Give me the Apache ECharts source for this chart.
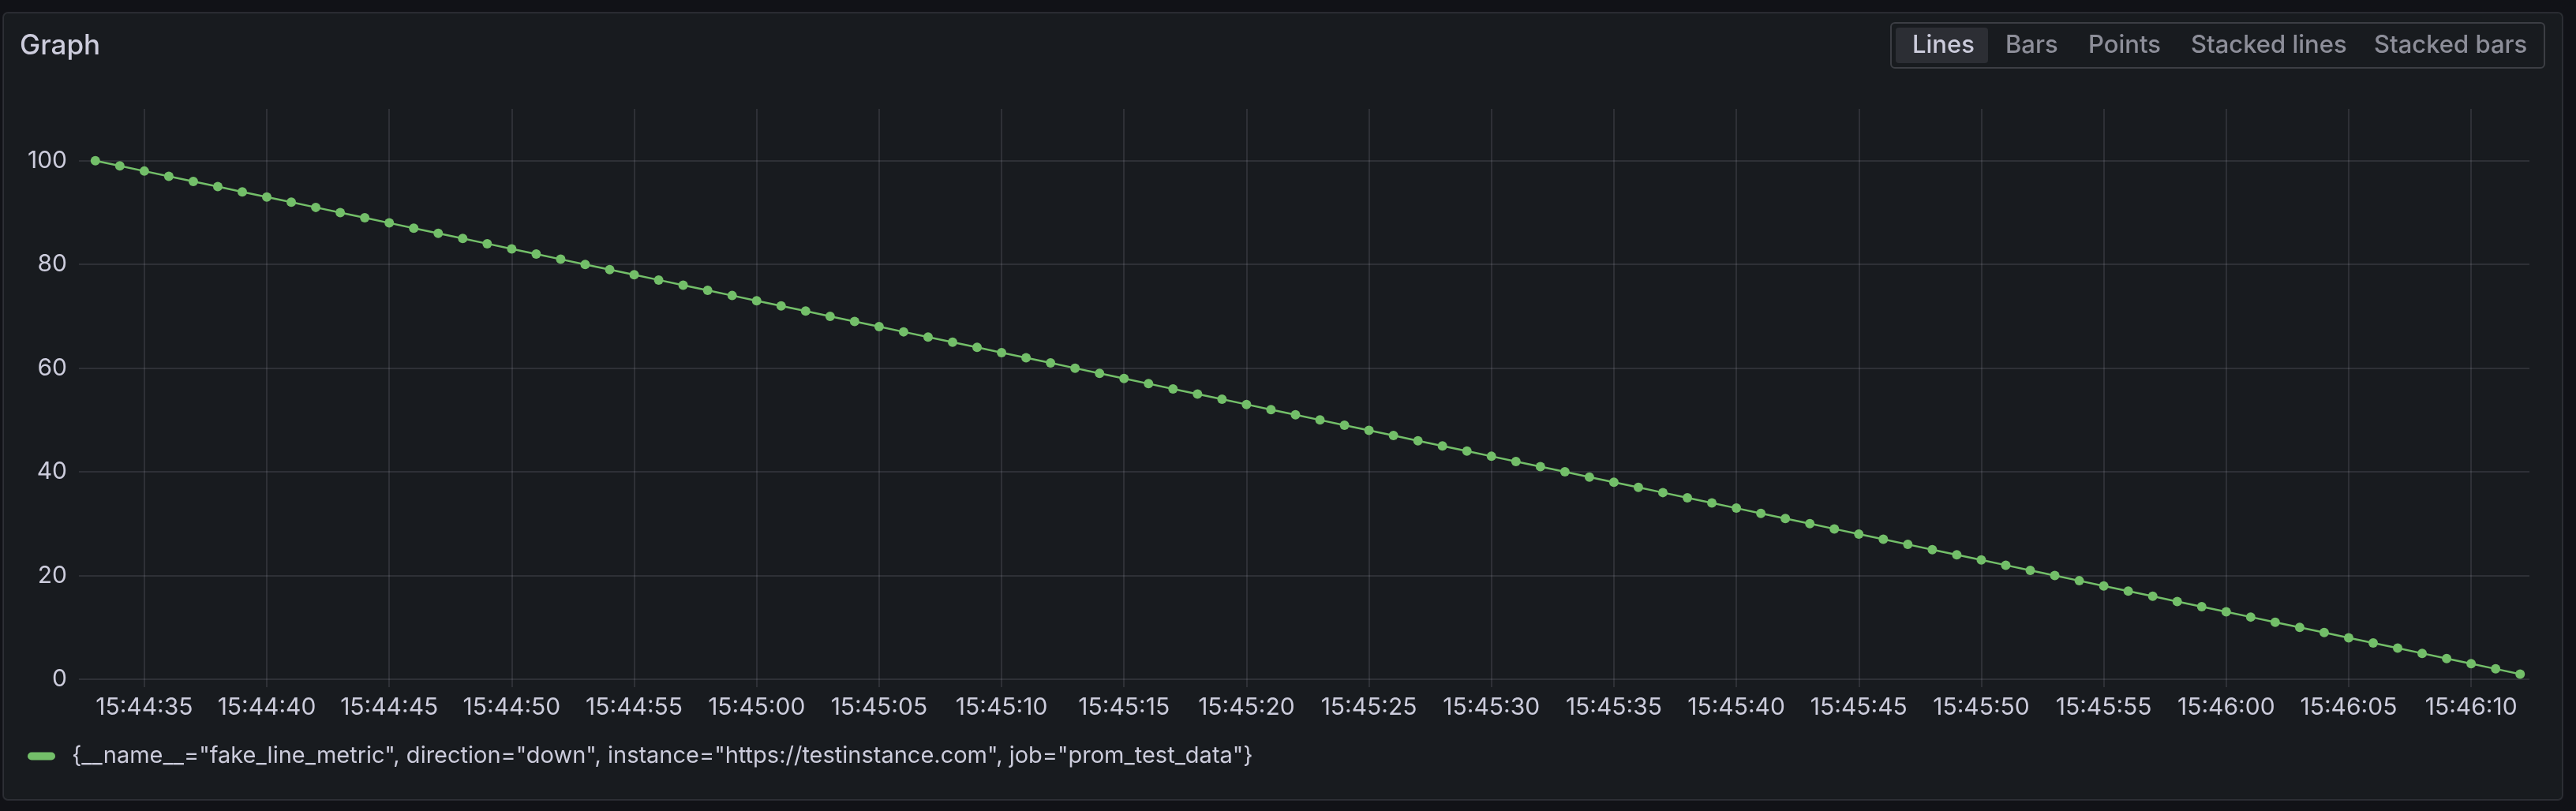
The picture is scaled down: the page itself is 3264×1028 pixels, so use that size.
<!DOCTYPE html>
<html>
<head>
<meta charset="utf-8">
<script src="https://cdn.jsdelivr.net/npm/echarts@6/dist/echarts.min.js"></script>
<style>
  html, body { margin: 0; padding: 0; background: #111217; }
  #chart { width: 3264px; height: 1028px; }
</style>
</head>
<body>
<div id="chart"></div>
<script>
// ---- data ----
const seriesName = '{__name__="fake_line_metric", direction="down", instance="https://testinstance.com", job="prom_test_data"}';
const timeLabels = [
  '15:44:33','15:44:34','15:44:35','15:44:36','15:44:37','15:44:38','15:44:39','15:44:40','15:44:41','15:44:42',
  '15:44:43','15:44:44','15:44:45','15:44:46','15:44:47','15:44:48','15:44:49','15:44:50','15:44:51','15:44:52',
  '15:44:53','15:44:54','15:44:55','15:44:56','15:44:57','15:44:58','15:44:59','15:45:00','15:45:01','15:45:02',
  '15:45:03','15:45:04','15:45:05','15:45:06','15:45:07','15:45:08','15:45:09','15:45:10','15:45:11','15:45:12',
  '15:45:13','15:45:14','15:45:15','15:45:16','15:45:17','15:45:18','15:45:19','15:45:20','15:45:21','15:45:22',
  '15:45:23','15:45:24','15:45:25','15:45:26','15:45:27','15:45:28','15:45:29','15:45:30','15:45:31','15:45:32',
  '15:45:33','15:45:34','15:45:35','15:45:36','15:45:37','15:45:38','15:45:39','15:45:40','15:45:41','15:45:42',
  '15:45:43','15:45:44','15:45:45','15:45:46','15:45:47','15:45:48','15:45:49','15:45:50','15:45:51','15:45:52',
  '15:45:53','15:45:54','15:45:55','15:45:56','15:45:57','15:45:58','15:45:59','15:46:00','15:46:01','15:46:02',
  '15:46:03','15:46:04','15:46:05','15:46:06','15:46:07','15:46:08','15:46:09','15:46:10','15:46:11','15:46:12'
];
const values = [
  100, 99, 98, 97, 96, 95, 94, 93, 92, 91,
  90, 89, 88, 87, 86, 85, 84, 83, 82, 81,
  80, 79, 78, 77, 76, 75, 74, 73, 72, 71,
  70, 69, 68, 67, 66, 65, 64, 63, 62, 61,
  60, 59, 58, 57, 56, 55, 54, 53, 52, 51,
  50, 49, 48, 47, 46, 45, 44, 43, 42, 41,
  40, 39, 38, 37, 36, 35, 34, 33, 32, 31,
  30, 29, 28, 27, 26, 25, 24, 23, 22, 21,
  20, 19, 18, 17, 16, 15, 14, 13, 12, 11,
  10, 9, 8, 7, 6, 5, 4, 3, 2, 1
];
const xTickLabels = [
  '15:44:35','15:44:40','15:44:45','15:44:50','15:44:55','15:45:00','15:45:05','15:45:10','15:45:15','15:45:20',
  '15:45:25','15:45:30','15:45:35','15:45:40','15:45:45','15:45:50','15:45:55','15:46:00','15:46:05','15:46:10'
];
const xRangeStart = '15:44:32.33';
const xRangeEnd = '15:46:12.38';
const yMin = 0, yMax = 110, yStep = 20;
const buttonLabels = ['Lines', 'Bars', 'Points', 'Stacked lines', 'Stacked bars'];
const activeButton = 'Lines';

// ---- helpers ----
function toTs(str) {
  const [h, m, s] = str.split(':');
  const sec = parseFloat(s);
  return Date.UTC(2024, 0, 15, +h, +m, 0) + Math.round(sec * 1000);
}
function pad(n) { return (n < 10 ? '0' : '') + n; }
function fmt(v) {
  const d = new Date(v);
  return pad(d.getUTCHours()) + ':' + pad(d.getUTCMinutes()) + ':' + pad(d.getUTCSeconds());
}

const FONT = 'Inter, "Noto Sans", sans-serif';
const TEXT = '#ccccdc';
const TEXT_DIM = 'rgba(204,204,220,0.65)';
const GRID = 'rgba(204,204,220,0.12)';
const GREEN = '#73bf69';

const seriesData = timeLabels.map((t, i) => [toTs(t), values[i]]);
const xTickValues = xTickLabels.map(toTs);

// button layout (left x of text)
const btnTextX = [2423, 2541, 2646, 2776, 3008];
const graphics = [
  { type: 'rect', z: -10, shape: { x: 4, y: 16, width: 3243, height: 998, r: 6 },
    style: { fill: '#181b1f', stroke: 'rgba(204,204,220,0.12)', lineWidth: 2 } },
  { type: 'text', x: 25, y: 58, style: { text: 'Graph', fontFamily: FONT, fontSize: 35, fontWeight: 500,
    fill: TEXT, verticalAlign: 'middle', align: 'left' } },
  { type: 'rect', shape: { x: 2396, y: 29, width: 828, height: 57, r: 5 },
    style: { fill: 'none', stroke: 'rgba(204,204,220,0.2)', lineWidth: 2 } },
  { type: 'rect', shape: { x: 2402, y: 35, width: 117, height: 45, r: 4 },
    style: { fill: '#2c2e34' } }
];
buttonLabels.forEach((lab, i) => {
  graphics.push({ type: 'text', x: btnTextX[i], y: 58,
    style: { text: lab, fontFamily: FONT, fontSize: 31, fontWeight: 500,
      fill: lab === activeButton ? TEXT : TEXT_DIM, verticalAlign: 'middle', align: 'left' } });
});

const chart = echarts.init(document.getElementById('chart'), null, { renderer: 'canvas' });
chart.setOption({
  backgroundColor: '#111217',
  animation: false,
  textStyle: { fontFamily: FONT },
  graphic: graphics,
  grid: { left: 100, right: 59, top: 138, bottom: 167, containLabel: false },
  legend: {
    show: true, left: 35, top: 944, padding: 0,
    icon: 'path://M5,0 H30 A5,5 0 0 1 30,10 H5 A5,5 0 0 1 5,0 Z',
    itemWidth: 35, itemHeight: 11,
    textStyle: { color: TEXT, fontSize: 29, fontFamily: FONT, padding: [0, 0, 0, 16] },
    data: [seriesName]
  },
  xAxis: {
    type: 'value',
    min: toTs(xRangeStart),
    max: toTs(xRangeEnd),
    scale: true,
    axisLine: { show: false },
    axisTick: { show: true, length: 10, customValues: xTickValues, lineStyle: { color: GRID, width: 2 } },
    axisLabel: { color: TEXT, fontSize: 30, fontFamily: FONT, margin: 21,
      customValues: xTickValues, hideOverlap: false,
      formatter: (v) => fmt(v) },
    splitLine: { show: true, lineStyle: { color: GRID, width: 2 } }
  },
  yAxis: {
    type: 'value',
    min: yMin, max: yMax, interval: yStep,
    axisLine: { show: false },
    axisTick: { show: false },
    axisLabel: { color: TEXT, fontSize: 30, fontFamily: FONT, margin: 15, showMaxLabel: false },
    splitLine: { show: true, showMaxLine: false, lineStyle: { color: GRID, width: 2 } }
  },
  series: [{
    name: seriesName,
    type: 'line',
    data: seriesData,
    symbol: 'circle',
    symbolSize: 12,
    showSymbol: true,
    showAllSymbol: true,
    color: GREEN,
    lineStyle: { color: GREEN, width: 2.5 },
    itemStyle: { color: GREEN }
  }]
});
</script>
</body>
</html>
